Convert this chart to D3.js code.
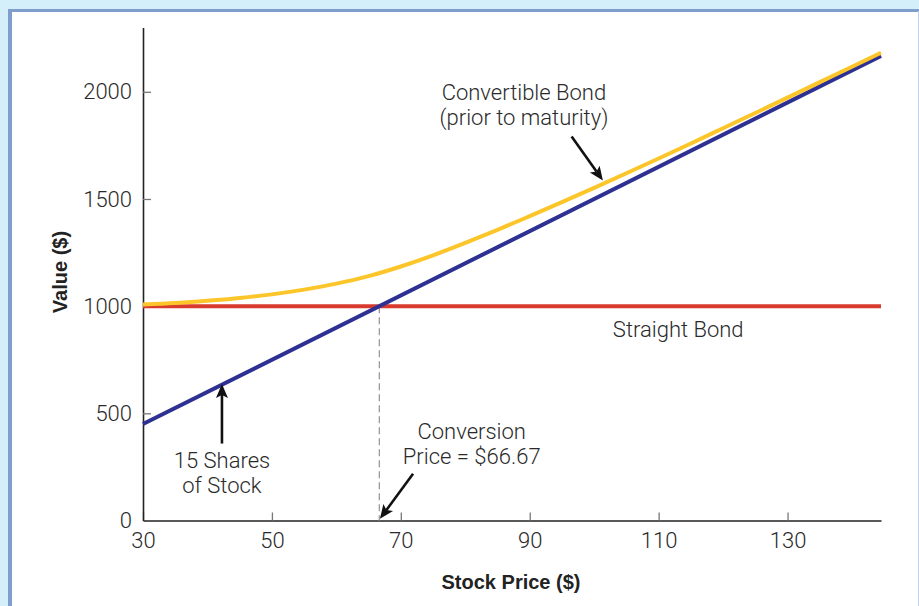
<!DOCTYPE html>
<html>
<head>
<meta charset="utf-8">
<script src="https://cdn.jsdelivr.net/npm/d3@7"></script>
<style>
  html, body { margin: 0; padding: 0; background: #d4eefa; }
  svg { display: block; }
</style>
</head>
<body>
<svg id="chart" width="919" height="606"></svg>
<script>
// ---- data ----
const xTicks = [30, 50, 70, 90, 110, 130];
const yTicks = [0, 500, 1000, 1500, 2000];
const xDomain = [30, 144.5];
const yDomain = [0, 2300];

const straightPrices = [30, 144.5];
const straightValues = [1000, 1000];

const stockPrices = [30, 144.5];
const stockValues = [450, 2167.5];

const convPrices = [30, 35, 40, 45, 50, 55, 60, 65, 70, 75, 80, 85, 90, 95, 100, 105, 110, 115, 120, 125, 130, 135, 140, 144.5];
const convValues = [1008, 1015, 1025, 1038, 1055, 1077, 1105, 1140, 1185, 1237, 1295, 1356, 1420, 1485, 1552, 1620, 1689, 1759, 1830, 1901, 1973, 2045, 2117, 2182];

const conversionPrice = 66.67;
const conversionValue = 1000;

// ---- setup ----
const svg = d3.select("#chart");
const W = 919, H = 606;

svg.append("rect").attr("x", 0).attr("y", 0).attr("width", W).attr("height", H).attr("fill", "#d4eefa");
svg.append("rect").attr("x", 8).attr("y", 9).attr("width", 911).attr("height", 620).attr("fill", "#7f9ecb");
svg.append("rect").attr("x", 12).attr("y", 12).attr("width", 906).attr("height", 620).attr("fill", "#ffffff");
svg.append("line").attr("x1", 918.5).attr("x2", 918.5).attr("y1", 11).attr("y2", H).attr("stroke", "#c4d3ea").attr("stroke-width", 1);

const x = d3.scaleLinear().domain(xDomain).range([143, 881]);
const y = d3.scaleLinear().domain(yDomain).range([520.5, 27.5]);

const lightFont = "Roboto, 'Liberation Sans', sans-serif";
const boldFont = "'Liberation Sans', Arial, sans-serif";
const textColor = "#2a2a2a";
const fs = 22;

// axes
const xAxis = d3.axisBottom(x).tickValues(xTicks).tickFormat(d3.format("d"))
  .tickSizeInner(-8).tickSizeOuter(0).tickPadding(12);
const yAxis = d3.axisLeft(y).tickValues(yTicks).tickFormat(d3.format("d"))
  .tickSizeInner(-8).tickSizeOuter(0).tickPadding(11);

const gx = svg.append("g").attr("transform", `translate(0,${y(0)})`).call(xAxis);
const gy = svg.append("g").attr("transform", `translate(${x(30)},0)`).call(yAxis);

[gx, gy].forEach(g => {
  g.select(".domain").attr("stroke", "#222").attr("stroke-width", 1.6);
  g.selectAll(".tick line").attr("stroke", "#777").attr("stroke-width", 1.3);
  g.selectAll(".tick text")
    .attr("font-family", lightFont).attr("font-weight", 300)
    .attr("font-size", fs).attr("fill", textColor);
});
gy.selectAll(".tick").filter(d => d === 0).select("line").remove();

// dashed conversion line
svg.append("line")
  .attr("x1", x(conversionPrice)).attr("x2", x(conversionPrice))
  .attr("y1", y(conversionValue)).attr("y2", y(0))
  .attr("stroke", "#9a9a9a").attr("stroke-width", 1.3)
  .attr("stroke-dasharray", "7,4");

// lines
const lineGen = d3.line().x(d => x(d[0])).y(d => y(d[1]));
const curveGen = d3.line().x(d => x(d[0])).y(d => y(d[1])).curve(d3.curveMonotoneX);

svg.append("path")
  .datum(straightPrices.map((p, i) => [p, straightValues[i]]))
  .attr("d", lineGen).attr("fill", "none").attr("stroke", "#d83a2e").attr("stroke-width", 4);

svg.append("path")
  .datum(stockPrices.map((p, i) => [p, stockValues[i]]))
  .attr("d", lineGen).attr("fill", "none").attr("stroke", "#2e3192").attr("stroke-width", 4);

svg.append("path")
  .datum(convPrices.map((p, i) => [p, convValues[i]]))
  .attr("d", curveGen).attr("fill", "none").attr("stroke", "#fcc62a").attr("stroke-width", 4);

// axis titles
svg.append("text")
  .attr("x", 511).attr("y", 589)
  .attr("text-anchor", "middle")
  .attr("font-family", boldFont).attr("font-weight", 700).attr("font-size", 20)
  .attr("fill", "#222").text("Stock Price ($)");

svg.append("text")
  .attr("transform", "translate(67,272) rotate(-90)")
  .attr("text-anchor", "middle")
  .attr("font-family", boldFont).attr("font-weight", 700).attr("font-size", 20)
  .attr("fill", "#222").text("Value ($)");

// annotations
function label(lines, px, py, anchor, lh) {
  const t = svg.append("text")
    .attr("font-family", lightFont).attr("font-weight", 300).attr("font-size", fs)
    .attr("fill", textColor).attr("text-anchor", anchor);
  lines.forEach((s, i) => {
    t.append("tspan").attr("x", px).attr("y", py + i * lh).text(s);
  });
}
function arrow(x1, y1, x2, y2) {
  const ang = Math.atan2(y2 - y1, x2 - x1);
  const len = 14, half = 6;
  const bx = x2 - len * Math.cos(ang), by = y2 - len * Math.sin(ang);
  svg.append("line").attr("x1", x1).attr("y1", y1).attr("x2", bx + 3 * Math.cos(ang)).attr("y2", by + 3 * Math.sin(ang))
    .attr("stroke", "#111").attr("stroke-width", 2.6);
  const p1 = [bx + half * Math.sin(ang), by - half * Math.cos(ang)];
  const p2 = [bx - half * Math.sin(ang), by + half * Math.cos(ang)];
  const notch = [x2 - (len - 3) * Math.cos(ang), y2 - (len - 3) * Math.sin(ang)];
  svg.append("path").attr("d", `M${x2},${y2}L${p1[0]},${p1[1]}L${notch[0]},${notch[1]}L${p2[0]},${p2[1]}Z`)
    .attr("fill", "#111");
}

// Convertible bond
label(["Convertible Bond", "(prior to maturity)"], x(89.1), y(1962), "middle", 25);
arrow(x(96.5), y(1791), x(101.35), y(1586));

// Straight bond
label(["Straight Bond"], x(102.9), y(855), "start", 25);

// 15 shares
label(["15 Shares", "of Stock"], x(42.25), y(247), "middle", 25);
arrow(x(42.25), y(359), x(42.25), y(637));

// Conversion price
label(["Conversion", "Price = $66.67"], x(81.0), y(381), "middle", 25);
arrow(x(71.9), y(218), x(66.76), y(8));
</script>
</body>
</html>
